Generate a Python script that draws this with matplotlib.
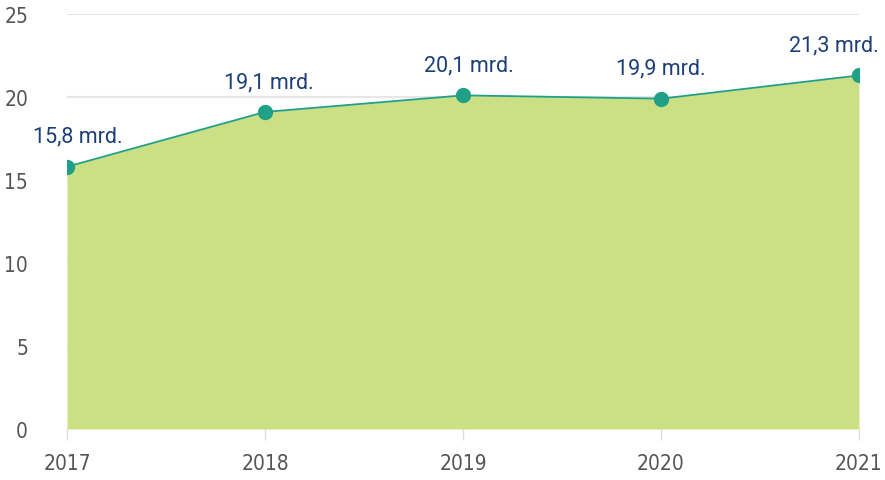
import matplotlib
matplotlib.use("Agg")
import matplotlib.pyplot as plt

years = [2017, 2018, 2019, 2020, 2021]
values = [15.8, 19.1, 20.1, 19.9, 21.3]
labels = ["15,8 mrd.", "19,1 mrd.", "20,1 mrd.", "19,9 mrd.", "21,3 mrd."]
yticks = [0, 5, 10, 15, 20, 25]

fill_col = "#cbdf85"
line_col = "#21a088"
text_col = "#1d3f78"
tick_col = "#555555"

fig = plt.figure(figsize=(8.85, 4.81), dpi=100)
ax = fig.add_axes([0.0757, 0.106, 0.8949, 0.8628])

ax.fill_between(years, values, 0, color=fill_col, linewidth=0, zorder=2)
ax.plot(years, values, color=line_col, linewidth=1.3, zorder=3)
ax.plot(years, values, "o", color=line_col, markersize=10, zorder=4)

# first and last labels nudged so they stay inside the figure
shifts = [8, 3, 4, 0, -18]
for x, y, s, dx in zip(years, values, labels, shifts):
    ax.annotate(s, (x, y), xytext=(dx, 18), textcoords="offset points",
                ha="center", va="baseline", color=text_col, fontsize=15.5,
                family=["Roboto", "DejaVu Sans"])

ax.set_xlim(years[0], years[-1])
ax.set_ylim(0, 25)
ax.set_yticks(yticks)
ax.set_xticks(years)
ax.grid(axis="y", color="#e6e6e6", linewidth=1.5, zorder=0)
ax.set_axisbelow(True)
for sp in ax.spines.values():
    sp.set_visible(False)

ax.tick_params(axis="y", length=0, pad=28, labelsize=15, labelcolor=tick_col)
ax.tick_params(axis="x", length=8, width=1, color="#dddddd", pad=9,
               labelsize=15, labelcolor=tick_col)
for lab in ax.get_xticklabels() + ax.get_yticklabels():
    lab.set_family("DejaVu Sans")
    lab.set_fontstretch("condensed")

fig.savefig("out.png", dpi=100)
